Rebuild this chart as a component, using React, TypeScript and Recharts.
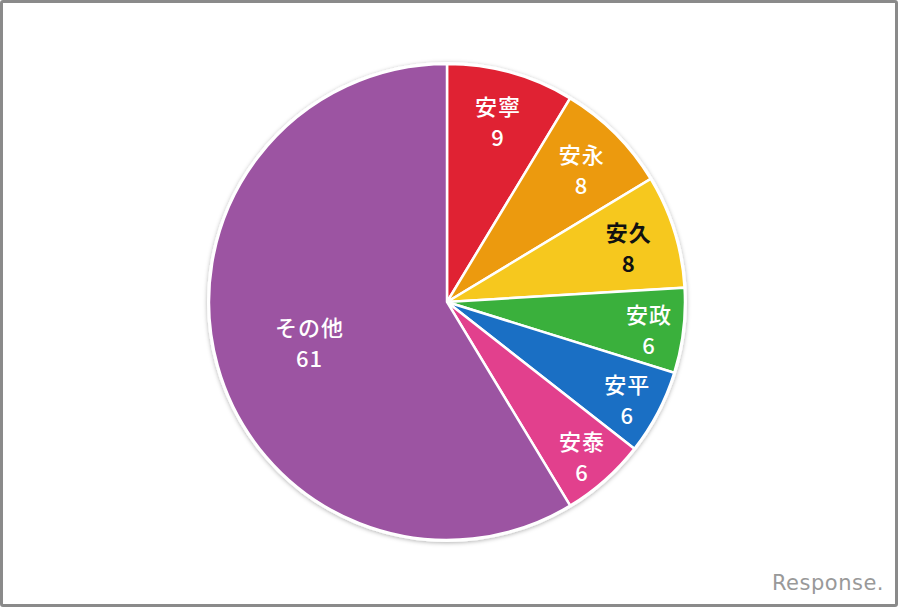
import { Cell, Pie, PieChart } from 'recharts'

const names = ['安寧', '安永', '安久', '安政', '安平', '安泰', 'その他']
const counts = [9, 8, 8, 6, 6, 6, 61]

const sliceColors = ['#e02233', '#ec9a0e', '#f6c81e', '#3ab03c', '#1a6fc4', '#e2408d', '#9c54a2']
const textColors = ['#fff', '#fff', '#111', '#fff', '#fff', '#fff', '#fff']

const data = names.map((name, i) => ({ name, value: counts[i] }))
const backdrop = [{ name: 'bg', value: 1 }]

const RADIAN = Math.PI / 180
const FONT = '"Noto Sans CJK JP", "Noto Sans", sans-serif'

function renderLabel(props: any) {
  const { cx, cy, midAngle, outerRadius, percent, name, value, index } = props
  const k = percent > 0.5 ? 0.6 : percent > 0.07 ? 0.8 : 0.855
  const r = outerRadius * k
  const x = cx + r * Math.cos(-midAngle * RADIAN)
  const y = cy + r * Math.sin(-midAngle * RADIAN)
  const common = {
    fill: textColors[index],
    textAnchor: 'middle' as const,
    dominantBaseline: 'central' as const,
    fontFamily: FONT,
    fontSize: 22,
    fontWeight: index === 2 ? 700 : 500,
    letterSpacing: 1,
  }
  return (
    <g>
      <text x={x} y={y - 14} {...common}>{name}</text>
      <text x={x} y={y + 17} {...common}>{value}</text>
    </g>
  )
}

export default function App() {
  return (
    <div style={{ position: 'relative', width: 898, height: 607, background: '#fff' }}>
      <style>{'body{margin:0}'}</style>
      <PieChart width={898} height={607} margin={{ top: 0, right: 0, bottom: 0, left: 0 }}>
        <defs>
          <filter id="pieShadow" x="-10%" y="-10%" width="120%" height="120%">
            <feDropShadow dx="0" dy="1" stdDeviation="2" floodColor="#000" floodOpacity="0.3" />
          </filter>
        </defs>
        <Pie
          data={backdrop}
          dataKey="value"
          cx={447}
          cy={302}
          outerRadius={240}
          startAngle={90}
          endAngle={-270}
          stroke="none"
          isAnimationActive={false}
        >
          <Cell fill="#fff" filter="url(#pieShadow)" />
        </Pie>
        <Pie
          data={data}
          dataKey="value"
          nameKey="name"
          cx={447}
          cy={302}
          outerRadius={238}
          startAngle={90}
          endAngle={-270}
          stroke="#fff"
          strokeWidth={2.5}
          labelLine={false}
          label={renderLabel}
          isAnimationActive={false}
        >
          {data.map((d, i) => (
            <Cell key={d.name} fill={sliceColors[i]} />
          ))}
        </Pie>
      </PieChart>
      <div
        style={{
          position: 'absolute',
          right: 14,
          bottom: 12,
          fontFamily: '"DejaVu Sans", sans-serif',
          fontSize: 21,
          color: '#999',
          letterSpacing: 0.5,
        }}
      >
        Response.
      </div>
      <div
        style={{
          position: 'absolute',
          inset: 0,
          border: '3px solid #8a8a8a',
          borderRadius: 3,
          pointerEvents: 'none',
        }}
      />
    </div>
  )
}
